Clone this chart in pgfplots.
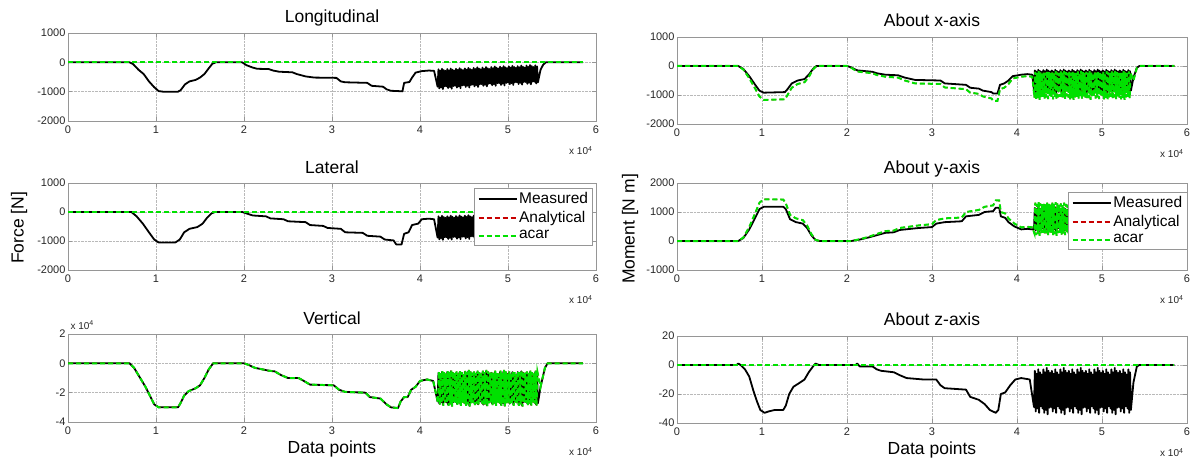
\documentclass[border=0pt]{standalone}
\usepackage{fontspec}
\setmainfont{Liberation Sans}
\usepackage{pgfplots}
\usepackage{pgfplotstable}
\pgfplotsset{compat=1.18}

\definecolor{acarcol}{RGB}{0,225,0}
\definecolor{analcol}{RGB}{200,0,0}
\definecolor{framecol}{RGB}{150,150,150}

% ---------- shared data ----------
\pgfplotstableread[row sep=\\]{x y\\ 0 0\\ 5.85 0\\}\zeroline

% Longitudinal force, measured [N]
\pgfplotstableread[row sep=\\]{x y\\
0 0\\ 0.70 0\\ 0.74 -60\\ 0.80 -250\\ 0.86 -400\\ 0.92 -650\\ 0.98 -850\\ 1.03 -980\\ 1.08 -1000\\ 1.25 -1000\\
1.28 -950\\ 1.33 -750\\ 1.38 -650\\ 1.45 -600\\ 1.50 -520\\ 1.55 -400\\ 1.60 -200\\ 1.64 -50\\ 1.68 0\\ 1.98 0\\
2.03 -100\\ 2.10 -180\\ 2.15 -220\\ 2.28 -230\\ 2.33 -280\\ 2.40 -320\\ 2.55 -340\\ 2.60 -400\\ 2.70 -480\\ 2.80 -520\\
3.05 -530\\ 3.10 -650\\ 3.15 -680\\ 3.40 -700\\ 3.45 -800\\ 3.58 -830\\ 3.62 -920\\ 3.67 -970\\ 3.75 -980\\ 3.80 -990\\
3.82 -700\\ 3.88 -670\\ 3.91 -520\\ 3.95 -350\\ 4.02 -300\\ 4.10 -280\\ 4.16 -290\\
4.20 -830\\ 4.21 -240\\ 4.22 -890\\ 4.23 -280\\ 4.24 -850\\ 4.25 -220\\ 4.26 -910\\ 4.27 -260\\ 4.28 -820\\ 4.29 -290\\
4.30 -820\\ 4.31 -230\\ 4.32 -880\\ 4.33 -270\\ 4.34 -840\\ 4.35 -210\\ 4.36 -900\\ 4.37 -250\\ 4.38 -810\\ 4.39 -280\\
4.40 -800\\ 4.41 -220\\ 4.42 -860\\ 4.43 -260\\ 4.44 -820\\ 4.45 -200\\ 4.46 -880\\ 4.47 -240\\ 4.48 -790\\ 4.49 -270\\
4.50 -780\\ 4.51 -210\\ 4.52 -840\\ 4.53 -250\\ 4.54 -800\\ 4.55 -190\\ 4.56 -860\\ 4.57 -230\\ 4.58 -770\\ 4.59 -260\\
4.60 -760\\ 4.61 -190\\ 4.62 -820\\ 4.63 -230\\ 4.64 -780\\ 4.65 -170\\ 4.66 -840\\ 4.67 -210\\ 4.68 -750\\ 4.69 -240\\
4.70 -740\\ 4.71 -180\\ 4.72 -800\\ 4.73 -220\\ 4.74 -760\\ 4.75 -160\\ 4.76 -820\\ 4.77 -200\\ 4.78 -730\\ 4.79 -230\\
4.80 -720\\ 4.81 -160\\ 4.82 -780\\ 4.83 -200\\ 4.84 -740\\ 4.85 -140\\ 4.86 -800\\ 4.87 -180\\ 4.88 -710\\ 4.89 -210\\
4.90 -710\\ 4.91 -150\\ 4.92 -770\\ 4.93 -190\\ 4.94 -730\\ 4.95 -130\\ 4.96 -790\\ 4.97 -170\\ 4.98 -700\\ 4.99 -200\\
5.00 -690\\ 5.01 -140\\ 5.02 -750\\ 5.03 -180\\ 5.04 -710\\ 5.05 -120\\ 5.06 -770\\ 5.07 -160\\ 5.08 -680\\ 5.09 -190\\
5.10 -680\\ 5.11 -130\\ 5.12 -740\\ 5.13 -170\\ 5.14 -700\\ 5.15 -110\\ 5.16 -760\\ 5.17 -150\\ 5.18 -670\\ 5.19 -180\\
5.20 -670\\ 5.21 -110\\ 5.22 -730\\ 5.23 -150\\ 5.24 -690\\ 5.25 -90\\ 5.26 -750\\ 5.27 -130\\ 5.28 -660\\ 5.29 -160\\
5.30 -660\\ 5.31 -100\\ 5.32 -720\\ 5.33 -140\\ 5.34 -680\\
5.37 -250\\ 5.40 -80\\ 5.43 0\\ 5.85 0\\
}\longmeas

% Lateral force, measured [N]
\pgfplotstableread[row sep=\\]{x y\\
0 0\\ 0.72 0\\ 0.78 -150\\ 0.85 -400\\ 0.92 -700\\ 0.98 -950\\ 1.03 -1050\\ 1.22 -1050\\ 1.27 -950\\ 1.32 -700\\
1.38 -580\\ 1.47 -520\\ 1.53 -400\\ 1.58 -200\\ 1.63 -50\\ 1.67 0\\ 1.98 0\\ 2.03 -50\\ 2.10 -120\\ 2.25 -150\\
2.30 -220\\ 2.45 -250\\ 2.50 -320\\ 2.70 -350\\ 2.75 -450\\ 2.90 -480\\ 2.95 -550\\ 3.10 -580\\ 3.15 -700\\ 3.35 -720\\
3.40 -820\\ 3.55 -850\\ 3.60 -950\\ 3.70 -980\\ 3.73 -1120\\ 3.79 -1120\\ 3.82 -750\\ 3.87 -700\\ 3.91 -450\\ 3.98 -400\\
4.02 -250\\ 4.10 -230\\ 4.16 -250\\
4.20 -880\\ 4.21 -150\\ 4.22 -940\\ 4.23 -190\\ 4.24 -900\\ 4.25 -130\\ 4.26 -960\\ 4.27 -170\\ 4.28 -870\\ 4.29 -200\\
4.30 -870\\ 4.31 -145\\ 4.32 -930\\ 4.33 -185\\ 4.34 -890\\ 4.35 -125\\ 4.36 -950\\ 4.37 -165\\ 4.38 -860\\ 4.39 -195\\
4.40 -860\\ 4.41 -140\\ 4.42 -920\\ 4.43 -180\\ 4.44 -880\\ 4.45 -120\\ 4.46 -940\\ 4.47 -160\\ 4.48 -850\\ 4.49 -190\\
4.50 -850\\ 4.51 -130\\ 4.52 -910\\ 4.53 -170\\ 4.54 -870\\ 4.55 -110\\ 4.56 -930\\ 4.57 -150\\ 4.58 -840\\ 4.59 -180\\
4.60 -840\\ 4.61 -125\\ 4.62 -900\\ 4.63 -165\\ 4.64 -860\\ 4.65 -105\\ 4.66 -920\\ 4.67 -145\\ 4.68 -830\\ 4.69 -175\\
4.70 -830\\ 4.71 -120\\ 4.72 -890\\ 4.73 -160\\ 4.74 -850\\ 4.75 -100\\ 4.76 -910\\ 4.77 -140\\ 4.78 -820\\ 4.79 -170\\
4.80 -820\\ 4.81 -110\\ 4.82 -880\\ 4.83 -150\\ 4.84 -840\\ 4.85 -90\\ 4.86 -900\\ 4.87 -130\\ 4.88 -810\\ 4.89 -160\\
4.90 -810\\ 4.91 -105\\ 4.92 -870\\ 4.93 -145\\ 4.94 -830\\ 4.95 -85\\ 4.96 -890\\ 4.97 -125\\ 4.98 -800\\ 4.99 -155\\
5.00 -800\\ 5.01 -100\\ 5.02 -860\\ 5.03 -140\\ 5.04 -820\\ 5.05 -80\\ 5.06 -880\\ 5.07 -120\\ 5.08 -790\\ 5.09 -150\\
5.10 -790\\ 5.11 -90\\ 5.12 -850\\ 5.13 -130\\ 5.14 -810\\ 5.15 -70\\ 5.16 -870\\ 5.17 -110\\ 5.18 -780\\ 5.19 -140\\
5.20 -780\\ 5.21 -85\\ 5.22 -840\\ 5.23 -125\\ 5.24 -800\\ 5.25 -65\\ 5.26 -860\\ 5.27 -105\\ 5.28 -770\\ 5.29 -135\\
5.30 -770\\ 5.31 -80\\ 5.32 -830\\ 5.33 -120\\ 5.34 -790\\
5.37 -200\\ 5.41 -30\\ 5.44 0\\ 5.85 0\\
}\latmeas

% Vertical force, measured [x 10^4 N]
\pgfplotstableread[row sep=\\]{x y\\
0 0\\ 0.70 0\\ 0.75 -0.3\\ 0.82 -1.0\\ 0.88 -1.6\\ 0.93 -2.2\\ 0.98 -2.8\\ 1.03 -3.0\\ 1.25 -3.0\\ 1.28 -2.7\\
1.32 -2.2\\ 1.37 -1.9\\ 1.45 -1.7\\ 1.50 -1.5\\ 1.55 -1.0\\ 1.60 -0.4\\ 1.65 0\\ 2.00 0\\ 2.05 -0.1\\ 2.12 -0.3\\
2.20 -0.4\\ 2.28 -0.5\\ 2.35 -0.55\\ 2.42 -0.8\\ 2.50 -1.0\\ 2.62 -1.0\\ 2.68 -1.2\\ 2.75 -1.45\\ 3.02 -1.5\\ 3.08 -1.8\\
3.15 -1.95\\ 3.38 -2.0\\ 3.43 -2.3\\ 3.55 -2.4\\ 3.62 -2.8\\ 3.67 -3.0\\ 3.75 -3.05\\ 3.78 -2.6\\ 3.82 -2.3\\ 3.86 -2.3\\
3.90 -1.8\\ 3.95 -1.6\\ 4.00 -1.2\\ 4.08 -1.1\\ 4.15 -1.2\\
4.20 -2.60\\ 4.21 -0.65\\ 4.22 -2.75\\ 4.23 -0.75\\ 4.24 -2.65\\ 4.25 -0.60\\ 4.26 -2.80\\ 4.27 -0.70\\ 4.28 -2.57\\ 4.29 -0.78\\
4.30 -2.67\\ 4.31 -0.59\\ 4.32 -2.82\\ 4.33 -0.69\\ 4.34 -2.72\\ 4.35 -0.54\\ 4.36 -2.87\\ 4.37 -0.64\\ 4.38 -2.64\\ 4.39 -0.72\\
4.40 -2.60\\ 4.41 -0.65\\ 4.42 -2.75\\ 4.43 -0.75\\ 4.44 -2.65\\ 4.45 -0.60\\ 4.46 -2.80\\ 4.47 -0.70\\ 4.48 -2.57\\ 4.49 -0.78\\
4.50 -2.67\\ 4.51 -0.59\\ 4.52 -2.82\\ 4.53 -0.69\\ 4.54 -2.72\\ 4.55 -0.54\\ 4.56 -2.87\\ 4.57 -0.64\\ 4.58 -2.64\\ 4.59 -0.72\\
4.60 -2.60\\ 4.61 -0.65\\ 4.62 -2.75\\ 4.63 -0.75\\ 4.64 -2.65\\ 4.65 -0.60\\ 4.66 -2.80\\ 4.67 -0.70\\ 4.68 -2.57\\ 4.69 -0.78\\
4.70 -2.67\\ 4.71 -0.59\\ 4.72 -2.82\\ 4.73 -0.69\\ 4.74 -2.72\\ 4.75 -0.54\\ 4.76 -2.87\\ 4.77 -0.64\\ 4.78 -2.64\\ 4.79 -0.72\\
4.80 -2.60\\ 4.81 -0.65\\ 4.82 -2.75\\ 4.83 -0.75\\ 4.84 -2.65\\ 4.85 -0.60\\ 4.86 -2.80\\ 4.87 -0.70\\ 4.88 -2.57\\ 4.89 -0.78\\
4.90 -2.67\\ 4.91 -0.59\\ 4.92 -2.82\\ 4.93 -0.69\\ 4.94 -2.72\\ 4.95 -0.54\\ 4.96 -2.87\\ 4.97 -0.64\\ 4.98 -2.64\\ 4.99 -0.72\\
5.00 -2.60\\ 5.01 -0.65\\ 5.02 -2.75\\ 5.03 -0.75\\ 5.04 -2.65\\ 5.05 -0.60\\ 5.06 -2.80\\ 5.07 -0.70\\ 5.08 -2.57\\ 5.09 -0.78\\
5.10 -2.67\\ 5.11 -0.59\\ 5.12 -2.82\\ 5.13 -0.69\\ 5.14 -2.72\\ 5.15 -0.54\\ 5.16 -2.87\\ 5.17 -0.64\\ 5.18 -2.64\\ 5.19 -0.72\\
5.20 -2.60\\ 5.21 -0.65\\ 5.22 -2.75\\ 5.23 -0.75\\ 5.24 -2.65\\ 5.25 -0.60\\ 5.26 -2.80\\ 5.27 -0.70\\ 5.28 -2.57\\ 5.29 -0.78\\
5.30 -2.67\\ 5.31 -0.59\\ 5.32 -2.82\\ 5.33 -0.69\\ 5.34 -2.72\\
5.37 -1.6\\ 5.42 -0.3\\ 5.45 0\\ 5.85 0\\
}\vertmeas

% Vertical force, acar model [x 10^4 N]
\pgfplotstableread[row sep=\\]{x y\\
0 0\\ 0.70 0\\ 0.75 -0.3\\ 0.82 -1.0\\ 0.88 -1.6\\ 0.93 -2.2\\ 0.98 -2.8\\ 1.03 -3.0\\ 1.25 -3.0\\ 1.28 -2.7\\
1.32 -2.2\\ 1.37 -1.9\\ 1.45 -1.7\\ 1.50 -1.5\\ 1.55 -1.0\\ 1.60 -0.4\\ 1.65 0\\ 2.00 0\\ 2.05 -0.1\\ 2.12 -0.3\\
2.20 -0.4\\ 2.28 -0.5\\ 2.35 -0.55\\ 2.42 -0.8\\ 2.50 -1.0\\ 2.62 -1.0\\ 2.68 -1.2\\ 2.75 -1.45\\ 3.02 -1.5\\ 3.08 -1.8\\
3.15 -1.95\\ 3.38 -2.0\\ 3.43 -2.3\\ 3.55 -2.4\\ 3.62 -2.8\\ 3.67 -3.0\\ 3.75 -3.05\\ 3.78 -2.6\\ 3.82 -2.3\\ 3.86 -2.3\\
3.90 -1.8\\ 3.95 -1.6\\ 4.00 -1.2\\ 4.08 -1.1\\ 4.15 -1.2\\
4.205 -2.70\\ 4.215 -0.55\\ 4.225 -2.85\\ 4.235 -0.65\\ 4.245 -2.75\\ 4.255 -0.50\\ 4.265 -2.90\\ 4.275 -0.60\\ 4.285 -2.67\\ 4.295 -0.68\\
4.305 -2.75\\ 4.315 -0.50\\ 4.325 -2.90\\ 4.335 -0.60\\ 4.345 -2.80\\ 4.355 -0.45\\ 4.365 -2.95\\ 4.375 -0.55\\ 4.385 -2.72\\ 4.395 -0.63\\
4.405 -2.70\\ 4.415 -0.55\\ 4.425 -2.85\\ 4.435 -0.65\\ 4.445 -2.75\\ 4.455 -0.50\\ 4.465 -2.90\\ 4.475 -0.60\\ 4.485 -2.67\\ 4.495 -0.68\\
4.505 -2.75\\ 4.515 -0.50\\ 4.525 -2.90\\ 4.535 -0.60\\ 4.545 -2.80\\ 4.555 -0.45\\ 4.565 -2.95\\ 4.575 -0.55\\ 4.585 -2.72\\ 4.595 -0.63\\
4.605 -2.70\\ 4.615 -0.55\\ 4.625 -2.85\\ 4.635 -0.65\\ 4.645 -2.75\\ 4.655 -0.50\\ 4.665 -2.90\\ 4.675 -0.60\\ 4.685 -2.67\\ 4.695 -0.68\\
4.705 -2.75\\ 4.715 -0.50\\ 4.725 -2.90\\ 4.735 -0.60\\ 4.745 -2.80\\ 4.755 -0.45\\ 4.765 -2.95\\ 4.775 -0.55\\ 4.785 -2.72\\ 4.795 -0.63\\
4.805 -2.70\\ 4.815 -0.55\\ 4.825 -2.85\\ 4.835 -0.65\\ 4.845 -2.75\\ 4.855 -0.50\\ 4.865 -2.90\\ 4.875 -0.60\\ 4.885 -2.67\\ 4.895 -0.68\\
4.905 -2.75\\ 4.915 -0.50\\ 4.925 -2.90\\ 4.935 -0.60\\ 4.945 -2.80\\ 4.955 -0.45\\ 4.965 -2.95\\ 4.975 -0.55\\ 4.985 -2.72\\ 4.995 -0.63\\
5.005 -2.70\\ 5.015 -0.55\\ 5.025 -2.85\\ 5.035 -0.65\\ 5.045 -2.75\\ 5.055 -0.50\\ 5.065 -2.90\\ 5.075 -0.60\\ 5.085 -2.67\\ 5.095 -0.68\\
5.105 -2.75\\ 5.115 -0.50\\ 5.125 -2.90\\ 5.135 -0.60\\ 5.145 -2.80\\ 5.155 -0.45\\ 5.165 -2.95\\ 5.175 -0.55\\ 5.185 -2.72\\ 5.195 -0.63\\
5.205 -2.70\\ 5.215 -0.55\\ 5.225 -2.85\\ 5.235 -0.65\\ 5.245 -2.75\\ 5.255 -0.50\\ 5.265 -2.90\\ 5.275 -0.60\\ 5.285 -2.67\\ 5.295 -0.68\\
5.305 -2.75\\ 5.315 -0.50\\ 5.325 -2.90\\ 5.335 -0.60\\
5.37 -1.6\\ 5.42 -0.3\\ 5.45 0\\ 5.85 0\\
}\vertacar

% Moment about x-axis, measured [N m]
\pgfplotstableread[row sep=\\]{x y\\
0 0\\ 0.72 0\\ 0.78 -100\\ 0.85 -350\\ 0.92 -650\\ 0.97 -850\\ 1.02 -920\\ 1.27 -900\\ 1.30 -800\\ 1.35 -600\\
1.42 -500\\ 1.50 -450\\ 1.55 -300\\ 1.60 -100\\ 1.64 0\\ 2.00 0\\ 2.05 -50\\ 2.12 -150\\ 2.30 -200\\ 2.35 -250\\
2.45 -300\\ 2.60 -320\\ 2.68 -400\\ 2.80 -480\\ 3.10 -500\\ 3.15 -600\\ 3.40 -650\\ 3.45 -750\\ 3.55 -780\\ 3.60 -850\\
3.70 -900\\ 3.72 -950\\ 3.77 -950\\ 3.80 -650\\ 3.85 -600\\ 3.90 -500\\ 3.95 -350\\ 4.05 -300\\ 4.12 -280\\ 4.18 -300\\
4.20 -850\\ 4.21 -150\\ 4.22 -910\\ 4.23 -190\\ 4.24 -870\\ 4.25 -130\\ 4.26 -930\\ 4.27 -170\\ 4.28 -840\\ 4.29 -200\\
4.30 -830\\ 4.31 -140\\ 4.32 -890\\ 4.33 -180\\ 4.34 -850\\ 4.35 -120\\ 4.36 -910\\ 4.37 -160\\ 4.38 -820\\ 4.39 -190\\
4.40 -850\\ 4.41 -150\\ 4.42 -910\\ 4.43 -190\\ 4.44 -870\\ 4.45 -130\\ 4.46 -930\\ 4.47 -170\\ 4.48 -840\\ 4.49 -200\\
4.50 -830\\ 4.51 -140\\ 4.52 -890\\ 4.53 -180\\ 4.54 -850\\ 4.55 -120\\ 4.56 -910\\ 4.57 -160\\ 4.58 -820\\ 4.59 -190\\
4.60 -850\\ 4.61 -150\\ 4.62 -910\\ 4.63 -190\\ 4.64 -870\\ 4.65 -130\\ 4.66 -930\\ 4.67 -170\\ 4.68 -840\\ 4.69 -200\\
4.70 -830\\ 4.71 -140\\ 4.72 -890\\ 4.73 -180\\ 4.74 -850\\ 4.75 -120\\ 4.76 -910\\ 4.77 -160\\ 4.78 -820\\ 4.79 -190\\
4.80 -850\\ 4.81 -150\\ 4.82 -910\\ 4.83 -190\\ 4.84 -870\\ 4.85 -130\\ 4.86 -930\\ 4.87 -170\\ 4.88 -840\\ 4.89 -200\\
4.90 -830\\ 4.91 -140\\ 4.92 -890\\ 4.93 -180\\ 4.94 -850\\ 4.95 -120\\ 4.96 -910\\ 4.97 -160\\ 4.98 -820\\ 4.99 -190\\
5.00 -850\\ 5.01 -150\\ 5.02 -910\\ 5.03 -190\\ 5.04 -870\\ 5.05 -130\\ 5.06 -930\\ 5.07 -170\\ 5.08 -840\\ 5.09 -200\\
5.10 -830\\ 5.11 -140\\ 5.12 -890\\ 5.13 -180\\ 5.14 -850\\ 5.15 -120\\ 5.16 -910\\ 5.17 -160\\ 5.18 -820\\ 5.19 -190\\
5.20 -850\\ 5.21 -150\\ 5.22 -910\\ 5.23 -190\\ 5.24 -870\\ 5.25 -130\\ 5.26 -930\\ 5.27 -170\\ 5.28 -840\\ 5.29 -200\\
5.30 -830\\ 5.31 -140\\ 5.32 -890\\ 5.33 -180\\ 5.34 -850\\
5.37 -400\\ 5.41 -60\\ 5.44 0\\ 5.85 0\\
}\mxmeas

% Moment about x-axis, acar model [N m]
\pgfplotstableread[row sep=\\]{x y\\
0 0\\ 0.72 0\\ 0.78 -120\\ 0.85 -420\\ 0.92 -780\\ 0.97 -1050\\ 1.02 -1170\\ 1.27 -1150\\ 1.30 -1000\\ 1.35 -750\\
1.42 -620\\ 1.50 -560\\ 1.55 -380\\ 1.60 -120\\ 1.64 0\\ 2.00 0\\ 2.05 -60\\ 2.12 -190\\ 2.30 -250\\ 2.35 -310\\
2.45 -370\\ 2.60 -400\\ 2.68 -500\\ 2.80 -600\\ 3.10 -620\\ 3.15 -740\\ 3.40 -800\\ 3.45 -920\\ 3.55 -960\\ 3.60 -1050\\
3.70 -1120\\ 3.72 -1200\\ 3.77 -1200\\ 3.80 -800\\ 3.85 -750\\ 3.90 -620\\ 3.95 -430\\ 4.05 -370\\ 4.12 -350\\ 4.18 -370\\
4.205 -1090\\ 4.215 -200\\ 4.225 -1150\\ 4.235 -240\\ 4.245 -1110\\ 4.255 -180\\ 4.265 -1170\\ 4.275 -220\\ 4.285 -1080\\ 4.295 -250\\
4.305 -1060\\ 4.315 -190\\ 4.325 -1120\\ 4.335 -230\\ 4.345 -1080\\ 4.355 -170\\ 4.365 -1140\\ 4.375 -210\\ 4.385 -1050\\ 4.395 -240\\
4.405 -1090\\ 4.415 -200\\ 4.425 -1150\\ 4.435 -240\\ 4.445 -1110\\ 4.455 -180\\ 4.465 -1170\\ 4.475 -220\\ 4.485 -1080\\ 4.495 -250\\
4.505 -1060\\ 4.515 -190\\ 4.525 -1120\\ 4.535 -230\\ 4.545 -1080\\ 4.555 -170\\ 4.565 -1140\\ 4.575 -210\\ 4.585 -1050\\ 4.595 -240\\
4.605 -1090\\ 4.615 -200\\ 4.625 -1150\\ 4.635 -240\\ 4.645 -1110\\ 4.655 -180\\ 4.665 -1170\\ 4.675 -220\\ 4.685 -1080\\ 4.695 -250\\
4.705 -1060\\ 4.715 -190\\ 4.725 -1120\\ 4.735 -230\\ 4.745 -1080\\ 4.755 -170\\ 4.765 -1140\\ 4.775 -210\\ 4.785 -1050\\ 4.795 -240\\
4.805 -1090\\ 4.815 -200\\ 4.825 -1150\\ 4.835 -240\\ 4.845 -1110\\ 4.855 -180\\ 4.865 -1170\\ 4.875 -220\\ 4.885 -1080\\ 4.895 -250\\
4.905 -1060\\ 4.915 -190\\ 4.925 -1120\\ 4.935 -230\\ 4.945 -1080\\ 4.955 -170\\ 4.965 -1140\\ 4.975 -210\\ 4.985 -1050\\ 4.995 -240\\
5.005 -1090\\ 5.015 -200\\ 5.025 -1150\\ 5.035 -240\\ 5.045 -1110\\ 5.055 -180\\ 5.065 -1170\\ 5.075 -220\\ 5.085 -1080\\ 5.095 -250\\
5.105 -1060\\ 5.115 -190\\ 5.125 -1120\\ 5.135 -230\\ 5.145 -1080\\ 5.155 -170\\ 5.165 -1140\\ 5.175 -210\\ 5.185 -1050\\ 5.195 -240\\
5.205 -1090\\ 5.215 -200\\ 5.225 -1150\\ 5.235 -240\\ 5.245 -1110\\ 5.255 -180\\ 5.265 -1170\\ 5.275 -220\\ 5.285 -1080\\ 5.295 -250\\
5.305 -1060\\ 5.315 -190\\ 5.325 -1120\\ 5.335 -230\\
5.37 -500\\ 5.41 -70\\ 5.44 0\\ 5.85 0\\
}\mxacar

% Moment about y-axis, measured [N m]
\pgfplotstableread[row sep=\\]{x y\\
0 0\\ 0.72 0\\ 0.78 100\\ 0.85 400\\ 0.92 800\\ 0.97 1100\\ 1.02 1180\\ 1.25 1180\\ 1.28 1100\\ 1.33 750\\
1.40 650\\ 1.48 600\\ 1.53 450\\ 1.58 200\\ 1.63 30\\ 1.68 0\\ 2.05 0\\ 2.15 50\\ 2.25 120\\ 2.35 200\\
2.45 280\\ 2.55 300\\ 2.62 380\\ 2.75 420\\ 2.85 450\\ 3.00 480\\ 3.05 600\\ 3.15 650\\ 3.35 680\\ 3.40 850\\
3.55 900\\ 3.62 1000\\ 3.72 1030\\ 3.75 1150\\ 3.79 1150\\ 3.81 850\\ 3.86 800\\ 3.90 650\\ 3.97 500\\ 4.05 400\\
4.12 420\\ 4.18 400\\
4.20 420\\ 4.21 1140\\ 4.22 360\\ 4.23 1100\\ 4.24 400\\ 4.25 1160\\ 4.26 340\\ 4.27 1120\\ 4.28 430\\ 4.29 1090\\
4.30 440\\ 4.31 1120\\ 4.32 380\\ 4.33 1080\\ 4.34 420\\ 4.35 1140\\ 4.36 360\\ 4.37 1100\\ 4.38 450\\ 4.39 1070\\
4.40 420\\ 4.41 1140\\ 4.42 360\\ 4.43 1100\\ 4.44 400\\ 4.45 1160\\ 4.46 340\\ 4.47 1120\\ 4.48 430\\ 4.49 1090\\
4.50 440\\ 4.51 1120\\ 4.52 380\\ 4.53 1080\\ 4.54 420\\ 4.55 1140\\ 4.56 360\\ 4.57 1100\\ 4.58 450\\ 4.59 1070\\
4.60 420\\ 4.61 1140\\ 4.62 360\\ 4.63 1100\\ 4.64 400\\ 4.65 1160\\ 4.66 340\\ 4.67 1120\\ 4.68 430\\ 4.69 1090\\
4.70 440\\ 4.71 1120\\ 4.72 380\\ 4.73 1080\\ 4.74 420\\ 4.75 1140\\ 4.76 360\\ 4.77 1100\\ 4.78 450\\ 4.79 1070\\
4.80 420\\ 4.81 1140\\ 4.82 360\\ 4.83 1100\\ 4.84 400\\ 4.85 1160\\ 4.86 340\\ 4.87 1120\\ 4.88 430\\ 4.89 1090\\
4.90 440\\ 4.91 1120\\ 4.92 380\\ 4.93 1080\\ 4.94 420\\ 4.95 1140\\ 4.96 360\\ 4.97 1100\\ 4.98 450\\ 4.99 1070\\
5.00 420\\ 5.01 1140\\ 5.02 360\\ 5.03 1100\\ 5.04 400\\ 5.05 1160\\ 5.06 340\\ 5.07 1120\\ 5.08 430\\ 5.09 1090\\
5.10 440\\ 5.11 1120\\ 5.12 380\\ 5.13 1080\\ 5.14 420\\ 5.15 1140\\ 5.16 360\\ 5.17 1100\\ 5.18 450\\ 5.19 1070\\
5.20 420\\ 5.21 1140\\ 5.22 360\\ 5.23 1100\\ 5.24 400\\ 5.25 1160\\ 5.26 340\\ 5.27 1120\\ 5.28 430\\ 5.29 1090\\
5.30 440\\ 5.31 1120\\ 5.32 380\\ 5.33 1080\\ 5.34 420\\
5.37 400\\ 5.42 50\\ 5.45 0\\ 5.85 0\\
}\mymeas

% Moment about y-axis, acar model [N m]
\pgfplotstableread[row sep=\\]{x y\\
0 0\\ 0.72 0\\ 0.78 120\\ 0.85 480\\ 0.92 960\\ 0.97 1320\\ 1.02 1440\\ 1.25 1430\\ 1.28 1300\\ 1.33 900\\
1.40 780\\ 1.48 720\\ 1.53 540\\ 1.58 240\\ 1.63 40\\ 1.68 0\\ 2.05 0\\ 2.15 60\\ 2.25 140\\ 2.35 240\\
2.45 340\\ 2.55 360\\ 2.62 450\\ 2.75 500\\ 2.85 540\\ 3.00 580\\ 3.05 720\\ 3.15 780\\ 3.35 810\\ 3.40 1000\\
3.55 1070\\ 3.62 1180\\ 3.72 1230\\ 3.75 1400\\ 3.79 1400\\ 3.81 1000\\ 3.86 950\\ 3.90 780\\ 3.97 600\\ 4.05 470\\
4.12 490\\ 4.18 470\\
4.205 260\\ 4.215 1320\\ 4.225 200\\ 4.235 1280\\ 4.245 240\\ 4.255 1340\\ 4.265 180\\ 4.275 1300\\ 4.285 270\\ 4.295 1270\\
4.305 280\\ 4.315 1300\\ 4.325 220\\ 4.335 1260\\ 4.345 260\\ 4.355 1320\\ 4.365 200\\ 4.375 1280\\ 4.385 290\\ 4.395 1250\\
4.405 260\\ 4.415 1320\\ 4.425 200\\ 4.435 1280\\ 4.445 240\\ 4.455 1340\\ 4.465 180\\ 4.475 1300\\ 4.485 270\\ 4.495 1270\\
4.505 280\\ 4.515 1300\\ 4.525 220\\ 4.535 1260\\ 4.545 260\\ 4.555 1320\\ 4.565 200\\ 4.575 1280\\ 4.585 290\\ 4.595 1250\\
4.605 260\\ 4.615 1320\\ 4.625 200\\ 4.635 1280\\ 4.645 240\\ 4.655 1340\\ 4.665 180\\ 4.675 1300\\ 4.685 270\\ 4.695 1270\\
4.705 280\\ 4.715 1300\\ 4.725 220\\ 4.735 1260\\ 4.745 260\\ 4.755 1320\\ 4.765 200\\ 4.775 1280\\ 4.785 290\\ 4.795 1250\\
4.805 260\\ 4.815 1320\\ 4.825 200\\ 4.835 1280\\ 4.845 240\\ 4.855 1340\\ 4.865 180\\ 4.875 1300\\ 4.885 270\\ 4.895 1270\\
4.905 280\\ 4.915 1300\\ 4.925 220\\ 4.935 1260\\ 4.945 260\\ 4.955 1320\\ 4.965 200\\ 4.975 1280\\ 4.985 290\\ 4.995 1250\\
5.005 260\\ 5.015 1320\\ 5.025 200\\ 5.035 1280\\ 5.045 240\\ 5.055 1340\\ 5.065 180\\ 5.075 1300\\ 5.085 270\\ 5.095 1270\\
5.105 280\\ 5.115 1300\\ 5.125 220\\ 5.135 1260\\ 5.145 260\\ 5.155 1320\\ 5.165 200\\ 5.175 1280\\ 5.185 290\\ 5.195 1250\\
5.205 260\\ 5.215 1320\\ 5.225 200\\ 5.235 1280\\ 5.245 240\\ 5.255 1340\\ 5.265 180\\ 5.275 1300\\ 5.285 270\\ 5.295 1270\\
5.305 280\\ 5.315 1300\\ 5.325 220\\ 5.335 1260\\
5.37 480\\ 5.42 60\\ 5.45 0\\ 5.85 0\\
}\myacar

% Moment about z-axis, measured [N m]
\pgfplotstableread[row sep=\\]{x y\\
0 0\\ 0.70 0\\ 0.72 1\\ 0.75 0\\ 0.80 -3\\ 0.85 -8\\ 0.90 -18\\ 0.94 -25\\ 0.98 -31\\ 1.03 -33\\
1.08 -32\\ 1.15 -31\\ 1.25 -31\\ 1.28 -28\\ 1.32 -20\\ 1.37 -15\\ 1.45 -12\\ 1.50 -10\\ 1.55 -5\\ 1.60 -1\\
1.63 1\\ 1.67 0\\ 2.10 0\\ 2.12 1\\ 2.15 -1\\ 2.30 -1\\ 2.35 -3\\ 2.40 -4\\ 2.55 -5\\ 2.62 -7\\
2.70 -9\\ 2.90 -10\\ 3.05 -10\\ 3.10 -14\\ 3.15 -16\\ 3.40 -17\\ 3.45 -22\\ 3.55 -24\\ 3.62 -27\\ 3.68 -31\\
3.75 -33\\ 3.78 -31\\ 3.81 -20\\ 3.86 -19\\ 3.92 -14\\ 3.98 -10\\ 4.05 -9\\ 4.15 -10\\
4.20 -29\\ 4.21 -4\\ 4.22 -32\\ 4.23 -6\\ 4.24 -30\\ 4.25 -3\\ 4.26 -33\\ 4.27 -5\\ 4.28 -28.5\\ 4.29 -6.5\\
4.30 -30\\ 4.31 -3\\ 4.32 -33\\ 4.33 -5\\ 4.34 -31\\ 4.35 -2\\ 4.36 -34\\ 4.37 -4\\ 4.38 -29.5\\ 4.39 -5.5\\
4.40 -29\\ 4.41 -4\\ 4.42 -32\\ 4.43 -6\\ 4.44 -30\\ 4.45 -3\\ 4.46 -33\\ 4.47 -5\\ 4.48 -28.5\\ 4.49 -6.5\\
4.50 -30\\ 4.51 -3\\ 4.52 -33\\ 4.53 -5\\ 4.54 -31\\ 4.55 -2\\ 4.56 -34\\ 4.57 -4\\ 4.58 -29.5\\ 4.59 -5.5\\
4.60 -29\\ 4.61 -4\\ 4.62 -32\\ 4.63 -6\\ 4.64 -30\\ 4.65 -3\\ 4.66 -33\\ 4.67 -5\\ 4.68 -28.5\\ 4.69 -6.5\\
4.70 -30\\ 4.71 -3\\ 4.72 -33\\ 4.73 -5\\ 4.74 -31\\ 4.75 -2\\ 4.76 -34\\ 4.77 -4\\ 4.78 -29.5\\ 4.79 -5.5\\
4.80 -29\\ 4.81 -4\\ 4.82 -32\\ 4.83 -6\\ 4.84 -30\\ 4.85 -3\\ 4.86 -33\\ 4.87 -5\\ 4.88 -28.5\\ 4.89 -6.5\\
4.90 -30\\ 4.91 -3\\ 4.92 -33\\ 4.93 -5\\ 4.94 -31\\ 4.95 -2\\ 4.96 -34\\ 4.97 -4\\ 4.98 -29.5\\ 4.99 -5.5\\
5.00 -29\\ 5.01 -4\\ 5.02 -32\\ 5.03 -6\\ 5.04 -30\\ 5.05 -3\\ 5.06 -33\\ 5.07 -5\\ 5.08 -28.5\\ 5.09 -6.5\\
5.10 -30\\ 5.11 -3\\ 5.12 -33\\ 5.13 -5\\ 5.14 -31\\ 5.15 -2\\ 5.16 -34\\ 5.17 -4\\ 5.18 -29.5\\ 5.19 -5.5\\
5.20 -29\\ 5.21 -4\\ 5.22 -32\\ 5.23 -6\\ 5.24 -30\\ 5.25 -3\\ 5.26 -33\\ 5.27 -5\\ 5.28 -28.5\\ 5.29 -6.5\\
5.30 -30\\ 5.31 -3\\ 5.32 -33\\ 5.33 -5\\ 5.34 -31\\
5.37 -12\\ 5.41 -1\\ 5.44 0\\ 5.85 0\\
}\mzmeas

\tikzset{tenfour/.style={font=\fontsize{10}{10}\selectfont, text=black!85}}

\pgfplotsset{
  panel/.style={
    scale only axis, anchor=south west,
    xmin=0, xmax=6, xtick={0,1,2,3,4,5,6},
    scaled ticks=false,
    /pgf/number format/1000 sep={},
    /pgf/number format/assume math mode=true,
    grid=major,
    grid style={densely dotted, gray!55, line width=0.6pt},
    axis line style={framecol, line width=0.9pt},
    major tick style={framecol, line width=0.8pt},
    major tick length=4pt,
    tick align=inside,
    ticklabel style={font=\fontsize{11}{12}\selectfont, text=black!85},
    xticklabel style={yshift=-1pt},
    yticklabel style={xshift=1pt},
    title style={font=\fontsize{17.5}{18}\selectfont, at={(0.5,1)}, anchor=base, yshift=4pt},
    xlabel style={font=\fontsize{17.5}{18}\selectfont, at={(0.5,0)}, anchor=base, yshift=-31pt},
    clip mode=individual,
    legend image code/.code={\draw[##1] (0pt,0pt) -- (38pt,0pt);},
    legend cell align=left,
  },
  meas/.style={black, line width=1.8pt, line join=round},
  anal/.style={analcol, line width=1.2pt, dash pattern=on 5pt off 3pt},
  acarline/.style={acarcol, line width=2pt, dash pattern=on 5pt off 3pt},
  boxlegend/.style={legend style={at={#1}, anchor=north east, draw=framecol, fill=white,
    font=\fontsize{15.5}{17}\selectfont, nodes={inner sep=1.6pt}, row sep=3pt,
    inner xsep=3pt, inner ysep=3pt}},
}

\newcommand{\tenlabel}{\node[tenfour, anchor=north east, yshift=-22pt] at (rel axis cs:1,0) {x 10\textsuperscript{4}};}

\begin{document}
\begin{tikzpicture}
\useasboundingbox (0,0) rectangle (1194pt,464pt);

% ---------- forces (left column) ----------
\begin{axis}[panel, at={(68pt,343pt)}, width=528pt, height=88pt,
  ymin=-2000, ymax=1000, ytick={-2000,-1000,0,1000}, title={Longitudinal}]
  \addplot[meas] table {\longmeas};
  \addplot[anal] table {\zeroline};
  \addplot[acarline] table {\zeroline};
  \tenlabel
\end{axis}

\begin{axis}[panel, at={(68pt,194pt)}, width=528pt, height=87pt,
  ymin=-2000, ymax=1000, ytick={-2000,-1000,0,1000}, title={Lateral},
  boxlegend={(0.994,0.943)}]
  \addplot[meas] table {\latmeas};
  \addplot[anal] table {\zeroline};
  \addplot[acarline] table {\zeroline};
  \legend{Measured, Analytical, acar}
  \tenlabel
\end{axis}

\begin{axis}[panel, at={(68pt,42pt)}, width=528pt, height=88pt,
  ymin=-4, ymax=2, ytick={-4,-2,0,2}, title={Vertical}, xlabel={Data points}]
  \addplot[meas] table {\vertmeas};
  \addplot[anal] table {\vertacar};
  \addplot[acarline] table {\vertacar};
  \tenlabel
  \node[tenfour, anchor=south west, yshift=1pt, xshift=-1pt] at (rel axis cs:0,1) {x 10\textsuperscript{4}};
\end{axis}

\node[rotate=90, font=\fontsize{17.5}{18}\selectfont] at (19pt,236pt) {Force [N]};

% ---------- moments (right column) ----------
\begin{axis}[panel, at={(677pt,340pt)}, width=510pt, height=87pt,
  ymin=-2000, ymax=1000, ytick={-2000,-1000,0,1000}, title={About x-axis}]
  \addplot[meas] table {\mxmeas};
  \addplot[anal] table {\mxacar};
  \addplot[acarline] table {\mxacar};
  \tenlabel
\end{axis}

\begin{axis}[panel, at={(677pt,194pt)}, width=510pt, height=87pt,
  ymin=-1000, ymax=2000, ytick={-1000,0,1000,2000}, title={About y-axis},
  boxlegend={(1,0.897)}]
  \addplot[meas] table {\mymeas};
  \addplot[anal] table {\myacar};
  \addplot[acarline] table {\myacar};
  \legend{Measured, Analytical, acar}
  \tenlabel
\end{axis}

\begin{axis}[panel, at={(677pt,41pt)}, width=510pt, height=87pt,
  ymin=-40, ymax=20, ytick={-40,-20,0,20}, title={About z-axis}, xlabel={Data points}]
  \addplot[meas] table {\mzmeas};
  \addplot[anal] table {\zeroline};
  \addplot[acarline] table {\zeroline};
  \tenlabel
\end{axis}

\node[rotate=90, font=\fontsize{17.5}{18}\selectfont] at (630pt,235pt) {Moment [N m]};
\end{tikzpicture}
\end{document}
